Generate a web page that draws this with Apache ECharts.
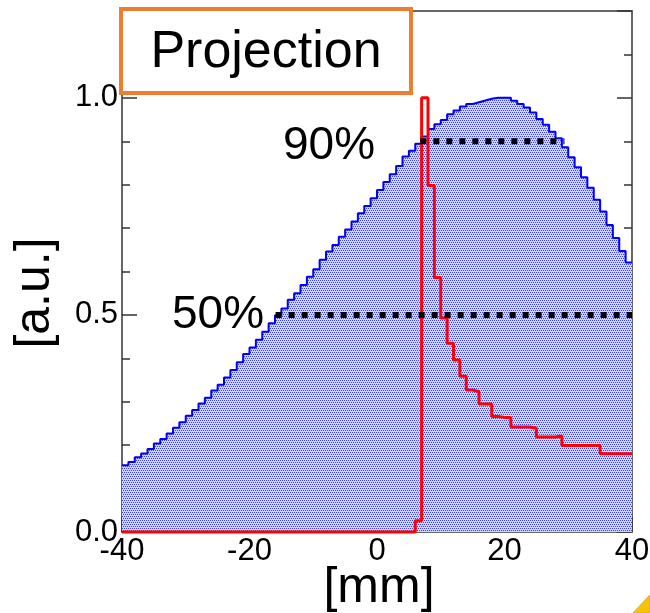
<!DOCTYPE html>
<html>
<head>
<meta charset="utf-8">
<script src="https://cdn.jsdelivr.net/npm/echarts@6/dist/echarts.min.js"></script>
<style>
  html, body { margin: 0; padding: 0; background: #fff; }
  #main { width: 650px; height: 613px; }
</style>
</head>
<body>
<div id="main"></div>
<script>
// histogram bins: 1 mm wide, from -40 to 40
var binStart = -40;
var binWidth = 1;

// projection (blue), bins -40 .. 39
var blueValues = [
  0.154, 0.161, 0.172, 0.181, 0.191, 0.204, 0.214, 0.227, 0.240, 0.253,
  0.268, 0.281, 0.296, 0.309, 0.326, 0.339, 0.356, 0.373, 0.391, 0.410,
  0.425, 0.443, 0.461, 0.481, 0.499, 0.515, 0.535, 0.550, 0.569, 0.588,
  0.605, 0.627, 0.646, 0.661, 0.680, 0.697, 0.715, 0.734, 0.751, 0.769,
  0.788, 0.806, 0.824, 0.843, 0.865, 0.878, 0.894, 0.911, 0.928, 0.939,
  0.949, 0.962, 0.971, 0.980, 0.986, 0.990, 0.994, 0.998, 1.000, 1.000,
  1.000, 0.993, 0.986, 0.978, 0.966, 0.951, 0.938, 0.922, 0.907, 0.886,
  0.863, 0.840, 0.817, 0.793, 0.765, 0.738, 0.707, 0.677, 0.647, 0.621
];

// red histogram, bins -40 .. 39
var redValues = [
  0, 0, 0, 0, 0, 0, 0, 0, 0, 0,
  0, 0, 0, 0, 0, 0, 0, 0, 0, 0,
  0, 0, 0, 0, 0, 0, 0, 0, 0, 0,
  0, 0, 0, 0, 0, 0, 0, 0, 0, 0,
  0, 0, 0, 0, 0, 0, 0.026, 1.000, 0.798, 0.586,
  0.493, 0.435, 0.396, 0.359, 0.327, 0.323, 0.295, 0.295, 0.266, 0.264,
  0.264, 0.242, 0.242, 0.242, 0.239, 0.219, 0.219, 0.219, 0.221, 0.199,
  0.199, 0.199, 0.199, 0.199, 0.199, 0.180, 0.180, 0.180, 0.180, 0.180
];

// dotted level lines
var level90 = [[6.8, 0.9], [29.4, 0.9]];
var level50 = [[-15.9, 0.5], [40, 0.5]];

var yTicks = [0, 0.5, 1.0];

/* turn bin contents into step points (left edges + closing edge) */
function toSteps(vals) {
  var pts = [];
  for (var i = 0; i < vals.length; i++) {
    pts.push([binStart + i * binWidth, vals[i]]);
  }
  pts.push([binStart + vals.length * binWidth, vals[vals.length - 1]]);
  return pts;
}

// dotted fill like the ROOT hatch
var pat = document.createElement('canvas');
pat.width = 4; pat.height = 4;
var pc = pat.getContext('2d');
pc.fillStyle = '#d0d3fb';
pc.fillRect(0, 0, 4, 4);
pc.fillStyle = '#3b44f2';
pc.fillRect(0, 0, 1, 1);
pc.fillRect(2, 0, 1, 1);
pc.fillRect(1, 2, 1, 1);
pc.fillRect(3, 2, 1, 1);

var chart = echarts.init(document.getElementById('main'));

var fontFam = '"Liberation Sans", Arial, sans-serif';
var axisGray = '#666';
var tickStyle = { color: '#333', width: 1.5 };

var option = {
  animation: false,
  backgroundColor: '#fff',
  grid: { left: 122, right: 18, top: 11, bottom: 81, outerBoundsMode: 'none', containLabel: false },
  xAxis: [{
    type: 'value',
    min: -40, max: 40, interval: 20,
    axisLine: { show: true, onZero: false, lineStyle: { color: axisGray, width: 2 } },
    axisTick: { show: true, inside: true, length: 15, lineStyle: tickStyle },
    minorTick: { show: true, splitNumber: 4, length: 8, lineStyle: tickStyle },
    splitLine: { show: false },
    axisLabel: { color: '#000', fontSize: 31, fontFamily: fontFam, margin: 4 }
  }, {
    type: 'value', position: 'top',
    min: -40, max: 40, interval: 20,
    axisLine: { show: true, onZero: false, lineStyle: { color: axisGray, width: 2 } },
    axisTick: { show: false },
    axisLabel: { show: false },
    splitLine: { show: false }
  }],
  yAxis: [{
    type: 'value', position: 'left',
    min: 0, max: 1.2, interval: 0.5,
    axisLine: { show: true, onZero: false, lineStyle: { color: axisGray, width: 2 } },
    axisTick: { show: true, inside: true, length: 15, lineStyle: tickStyle },
    minorTick: { show: true, splitNumber: 5, length: 8, lineStyle: tickStyle },
    splitLine: { show: false },
    axisLabel: {
      color: '#000', fontSize: 31, fontFamily: fontFam, margin: 4,
      showMaxLabel: false,
      formatter: function (v) { return yTicks.indexOf(v) >= 0 ? v.toFixed(1) : ''; }
    }
  }, {
    type: 'value', position: 'right',
    min: 0, max: 1.2, interval: 0.5,
    axisLine: { show: true, onZero: false, lineStyle: { color: axisGray, width: 2 } },
    axisTick: { show: true, inside: true, length: 15, lineStyle: tickStyle },
    minorTick: { show: true, splitNumber: 5, length: 8, lineStyle: tickStyle },
    splitLine: { show: false },
    axisLabel: { show: false }
  }],
  series: [{
    name: 'projection',
    type: 'line',
    step: 'end',
    symbol: 'none',
    data: toSteps(blueValues),
    lineStyle: { color: '#0000ff', width: 2 },
    areaStyle: { color: { image: pat, repeat: 'repeat' }, opacity: 1, origin: 'start' },
    z: 2
  }, {
    name: 'red',
    type: 'line',
    step: 'end',
    symbol: 'none',
    clip: false,
    data: toSteps(redValues),
    lineStyle: { color: '#ff0000', width: 3 },
    z: 3
  }, {
    name: '90%',
    type: 'line',
    symbol: 'none',
    data: level90,
    lineStyle: { color: '#000', width: 6, type: [6, 7] },
    z: 4
  }, {
    name: '50%',
    type: 'line',
    symbol: 'none',
    data: level50,
    lineStyle: { color: '#000', width: 6, type: [6, 7] },
    z: 4
  }],
  graphic: [{
    type: 'rect',
    shape: { x: 121, y: 9, width: 290, height: 84 },
    style: { fill: '#fff', stroke: '#ed7d31', lineWidth: 4 },
    z: 100
  }, {
    type: 'text',
    x: 266, y: 53,
    style: { text: 'Projection', fontSize: 52, fontFamily: fontFam, fill: '#000', align: 'center', verticalAlign: 'middle' },
    z: 101
  }, {
    type: 'text',
    x: 283, y: 146,
    style: { text: '90%', fontSize: 46, fontFamily: fontFam, fill: '#000', align: 'left', verticalAlign: 'middle' },
    z: 101
  }, {
    type: 'text',
    x: 172, y: 315,
    style: { text: '50%', fontSize: 46, fontFamily: fontFam, fill: '#000', align: 'left', verticalAlign: 'middle' },
    z: 101
  }, {
    type: 'text',
    x: 35, y: 293,
    rotation: Math.PI / 2,
    style: { text: '[a.u.]', fontSize: 50, fontFamily: fontFam, fill: '#000', align: 'center', verticalAlign: 'middle' },
    z: 101
  }, {
    type: 'text',
    x: 379, y: 588,
    style: { text: '[mm]', fontSize: 50, fontFamily: fontFam, fill: '#000', align: 'center', verticalAlign: 'middle' },
    z: 101
  }, {
    type: 'polygon',
    shape: { points: [[633, 613], [650, 595], [650, 613]] },
    style: { fill: '#f6c400', stroke: '#f0a020', lineWidth: 1 },
    z: 101
  }]
};

chart.setOption(option);
</script>
</body>
</html>
